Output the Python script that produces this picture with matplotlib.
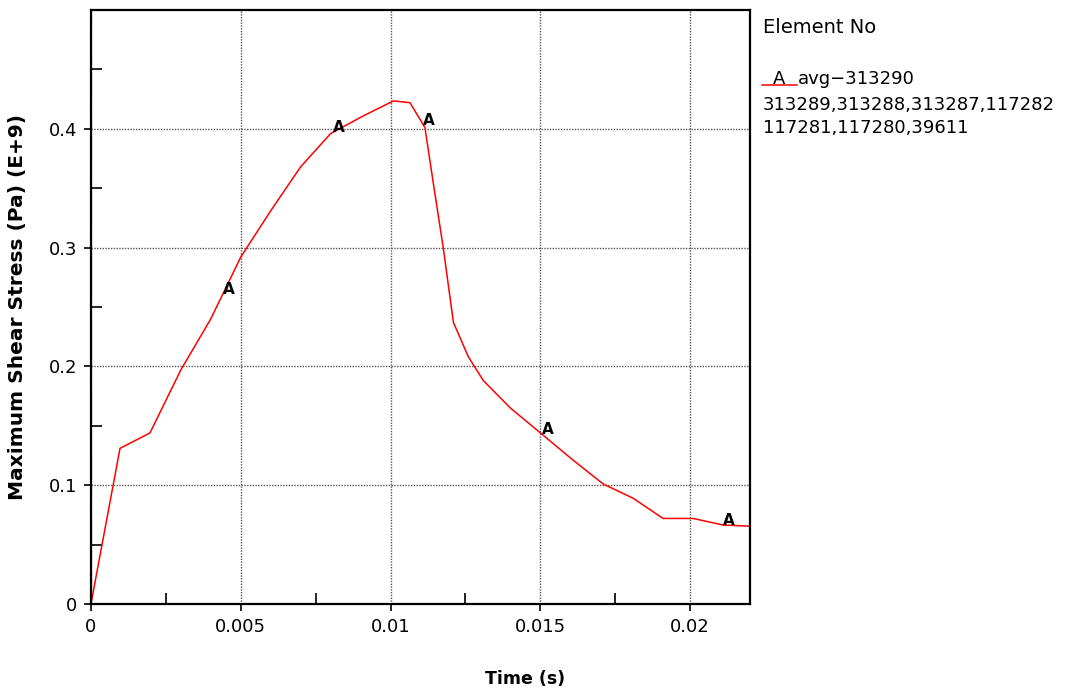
import numpy as np
import matplotlib
matplotlib.use('Agg')
import matplotlib.pyplot as plt
from matplotlib.lines import Line2D

# curve "A"
time_s = [0, 0.00097, 0.00197, 0.0030, 0.0040, 0.0050, 0.0060, 0.0070, 0.0080, 0.0091,
          0.0101, 0.01065, 0.01115, 0.01143, 0.01176, 0.0121, 0.0126, 0.0131, 0.0140,
          0.0151, 0.0161, 0.0171, 0.0181, 0.0191, 0.0201, 0.0211, 0.0220]
stress = [0, 0.131, 0.144, 0.197, 0.240, 0.292, 0.331, 0.368, 0.396, 0.411,
          0.4235, 0.422, 0.401, 0.354, 0.300, 0.237, 0.208, 0.188, 0.165,
          0.142, 0.121, 0.101, 0.089, 0.072, 0.072, 0.0665, 0.0655]
label_times = [0.00441, 0.00808, 0.01109, 0.01505, 0.02109]

x_ticks = [0, 0.005, 0.01, 0.015, 0.02]
x_labels = ['0', '0.005', '0.01', '0.015', '0.02']
y_ticks = [0, 0.1, 0.2, 0.3, 0.4]
y_labels = ['0', '0.1', '0.2', '0.3', '0.4']
legend_lines = ['313289,313288,313287,117282', '117281,117280,39611']

plt.rcParams['font.family'] = 'DejaVu Sans'

fig = plt.figure(figsize=(10.65, 6.92), dpi=100)
ax = fig.add_axes([0.0854, 0.1272, 0.6188, 0.8583])

ax.plot(time_s, stress, color='red', lw=1.1)
for t in label_times:
    ax.annotate('A', (t, np.interp(t, time_s, stress)), xytext=(0, 0),
                textcoords='offset points', ha='left', va='baseline',
                fontsize=11, fontweight='bold')

ax.set_xlim(0, 0.022)
ax.set_ylim(0, 0.5)
ax.set_xticks(x_ticks)
ax.set_xticklabels(x_labels, fontsize=13)
ax.set_yticks(y_ticks)
ax.set_yticklabels(y_labels, fontsize=13)
ax.set_xticks(np.arange(0.0025, 0.022, 0.005), minor=True)
ax.set_yticks(np.arange(0.05, 0.5, 0.1), minor=True)
ax.tick_params(which='major', direction='out', length=5, width=1.2, pad=5)
ax.tick_params(which='minor', direction='in', length=8, width=1.2)
ax.grid(True, which='major', color='#555555', lw=1, ls=(0, (1, 1)))

for s in ax.spines.values():
    s.set_linewidth(1.6)

ax.set_xlabel('Time (s)', fontsize=12.5, fontweight='bold')
ax.xaxis.set_label_coords(0.659, -0.112)
ax.set_ylabel('Maximum Shear Stress (Pa) (E+9)', fontsize=14.5, fontweight='bold')
ax.yaxis.set_label_coords(-0.097, 0.5)

# legend drawn as figure text
lx = 763 / 1065
fig.text(lx, 1 - 33 / 692, 'Element No', fontsize=14)
fig.add_artist(Line2D([762 / 1065, 797 / 1065], [1 - 85 / 692, 1 - 85 / 692],
                      color='red', lw=1.1, transform=fig.transFigure))
fig.text(773 / 1065, 1 - 84 / 692, 'A', fontsize=13)
fig.text(798 / 1065, 1 - 84 / 692, 'avg\u2212313290', fontsize=13)
for i, line in enumerate(legend_lines):
    fig.text(lx, 1 - (110 + 23 * i) / 692, line, fontsize=13)

fig.savefig('out.png', dpi=100)
